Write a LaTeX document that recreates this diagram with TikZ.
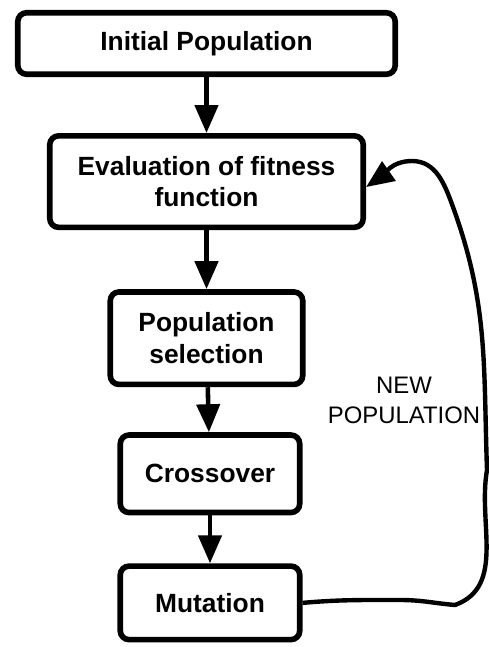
\documentclass[tikz,border=0pt]{standalone}
\usepackage{fontspec}
\setmainfont{Liberation Sans}
\usetikzlibrary{arrows.meta,positioning}

\begin{document}
\begin{tikzpicture}[x=0.02cm, y=0.02cm, >={Triangle[length=5.6mm,width=4.6mm]}, node distance=10mm,
  b/.style={draw, line width=3.2pt, rounded corners=5pt, align=center, font=\fontsize{15}{18}\selectfont\bfseries},
  e/.style={->, line width=2.6pt},
  back/.style={->, line width=2.5pt}]
\useasboundingbox (0,0) rectangle (489,-647);
\node[b, minimum width=7.55cm, minimum height=1.23cm] (init) at (206.5,-43.5) {Initial Population};
\node[b, minimum width=6.27cm, minimum height=1.83cm, below=1.12cm of init] (eval) {Evaluation of fitness\\ function};
\node[b, minimum width=3.85cm, minimum height=1.85cm, below=1.18cm of eval] (sel) {Population\\ selection};
\node[b, minimum width=3.59cm, minimum height=1.55cm, below=0.9cm of sel, xshift=0.07cm] (cross) {Crossover};
\node[b, minimum width=3.59cm, minimum height=1.47cm, below=0.96cm of cross] (mut) {Mutation};
\node[align=center, font=\fontsize{13.6}{17}\selectfont] (newpop) at (404,-400) {NEW\\ POPULATION};
\draw[e] (init) -- (eval); \draw[e] (eval) -- (sel); \draw[e] (sel) -- (cross); \draw[e] (cross) -- (mut);
\draw[back] (mut.east) to[out=5,in=180] (400,-600) to[out=0,in=175] (455,-605)
  to[out=20,in=-100] (487,-470) to[out=92,in=-70] (453,-207) to[out=110,in=0] (412,-161)
  to[out=180,in=35] ([yshift=-0.11cm]eval.east);
\end{tikzpicture}
\end{document}
